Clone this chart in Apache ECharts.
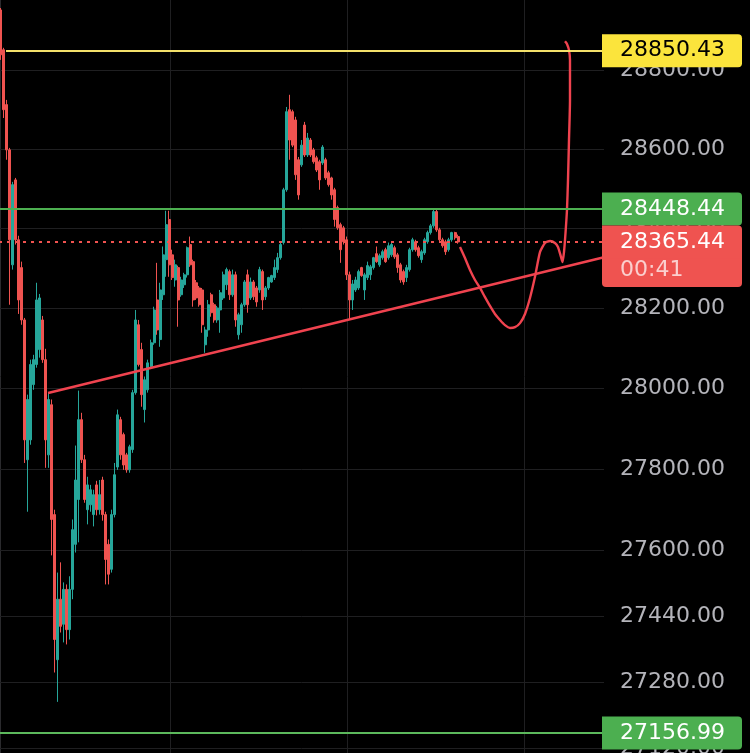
<!DOCTYPE html>
<html><head><meta charset="utf-8">
<script src="https://cdn.jsdelivr.net/npm/echarts@6/dist/echarts.min.js"></script>
<style>html,body{margin:0;padding:0;background:#000;}#chart{width:750px;height:753px;}</style>
</head><body><div id="chart"></div>
<script>
// ---- data ----
const opens = [28955,28853,28713,28598,28308,28522,28371,28301,28170,27823,27872,28009,28059,28096,28170,28071,27835,27959,27688,27334,
27481,27420,27505,27407,27505,27615,27725,27922,27823,27700,27712,27688,27761,27700,27773,27688,27615,27554,27688,27805,
27922,27885,27835,27798,27848,27989,28158,28096,27947,27996,28054,28113,28220,28121,28233,28321,28422,28333,28270,28301,
28233,28258,28283,28359,28316,28263,28250,28245,28108,28145,28233,28208,28170,28195,28225,28258,28291,28233,28283,28133,
28158,28208,28283,28225,28265,28250,28245,28291,28228,28250,28265,28276,28296,28326,28364,28497,28700,28695,28674,28573,
28560,28661,28585,28623,28598,28578,28568,28565,28573,28540,28527,28497,28452,28409,28401,28371,28283,28220,28245,28250,
28301,28245,28276,28283,28301,28336,28308,28326,28346,28326,28333,28351,28333,28308,28291,28276,28296,28346,28366,28351,
28321,28338,28366,28389,28406,28442,28396,28371,28366,28346,28371,28389,28379];
const closes = [28840,28700,28598,28371,28510,28371,28220,28170,27872,27972,28059,28071,28220,28225,28071,27872,27972,27676,27383,27481,
27415,27505,27407,27505,27651,27773,27922,27823,27725,27761,27749,27737,27700,27737,27688,27578,27542,27688,27786,27934,
27835,27810,27798,27855,27989,28170,28059,27984,28021,28063,28113,28195,28145,28245,28333,28409,28308,28276,28308,28220,
28270,28283,28351,28308,28220,28225,28208,28158,28145,28208,28188,28170,28200,28238,28283,28296,28233,28283,28170,28183,
28208,28265,28208,28265,28228,28215,28296,28220,28250,28276,28281,28301,28326,28359,28497,28695,28623,28610,28535,28484,
28610,28585,28628,28585,28568,28547,28522,28605,28527,28510,28484,28422,28401,28346,28366,28283,28220,28260,28270,28291,
28281,28283,28306,28303,28326,28316,28331,28341,28316,28356,28359,28328,28301,28270,28265,28301,28346,28371,28346,28331,
28341,28371,28389,28406,28442,28396,28371,28356,28341,28371,28389,28376,28365.44];
const highs = [28960,28858,28725,28603,28517,28527,28381,28316,28175,27984,28071,28083,28263,28235,28180,28098,27989,27972,27700,27546,
27571,27522,27517,27537,27676,27858,27994,27939,27835,27781,27761,27749,27771,27773,27781,27695,27627,27700,27815,27947,
27929,27890,27840,27860,27996,28195,28170,28113,28029,28071,28121,28203,28313,28263,28354,28444,28444,28346,28321,28306,
28278,28288,28354,28379,28321,28270,28255,28250,28153,28220,28238,28213,28205,28245,28291,28301,28296,28296,28291,28188,
28213,28270,28296,28276,28270,28255,28303,28296,28255,28278,28283,28321,28338,28364,28502,28707,28738,28700,28682,28580,
28623,28669,28641,28628,28603,28583,28573,28610,28578,28545,28530,28502,28457,28414,28406,28379,28291,28270,28278,28296,
28303,28288,28316,28308,28328,28354,28336,28346,28351,28364,28364,28356,28338,28313,28296,28308,28351,28376,28371,28356,
28346,28376,28394,28411,28449,28449,28401,28376,28371,28376,28391,28391,28384];
const lows = [28827,28679,28573,28208,28296,28359,28185,28158,27815,27695,27860,27996,28051,28076,28063,27803,27803,27588,27303,27232,
27400,27376,27371,27383,27481,27595,27620,27815,27717,27664,27695,27659,27686,27688,27673,27517,27517,27546,27681,27798,
27823,27798,27791,27791,27840,27984,28054,27954,27915,27989,28049,28108,28133,28103,28220,28278,28278,28270,28253,28153,
28228,28250,28276,28303,28203,28220,28203,28138,28088,28128,28178,28163,28163,28138,28220,28245,28220,28228,28153,28121,
28138,28203,28188,28220,28220,28203,28238,28195,28220,28245,28263,28270,28288,28321,28359,28492,28573,28605,28522,28472,
28555,28580,28580,28580,28563,28542,28497,28560,28522,28505,28472,28404,28396,28313,28359,28270,28170,28195,28240,28245,
28278,28220,28270,28270,28296,28313,28303,28321,28313,28321,28328,28323,28288,28263,28258,28265,28291,28341,28341,28326,
28313,28333,28361,28384,28401,28391,28366,28351,28333,28341,28366,28371,28361];

const slotCount = 201;                       // time slots on the x axis (incl. empty future)
const categories = Array.from({length: slotCount}, (_, i) => 'T' + i);
const priceTicks = [29000, 28800, 28600, 28400, 28200, 28000, 27800, 27600, 27440, 27280, 27120];
const timeGridSlots = [56.3, 115.1, 174.0];

const resistanceTop = 28850.43;
const resistanceTopStartSlot = 1.83;
const resistanceMid = 28448.44;
const lastPrice = 28365.44;
const countdown = '00:41';
const supportLevel = 27156.99;

const trendSlots = [15.8, 200.5];
const trendPrices = [27988, 28327];

const pathSlots = [152.66,154.32,155.98,157.64,159.30,160.96,162.62,164.28,165.95,167.61,169.27,170.93,172.59,174.25,175.91,177.57,
179.23,180.90,182.56,184.22,185.21,186.21,186.71,187.21,187.71,188.20,188.54,188.87,189.20,189.20,188.87,188.20,187.54];
const pathPrices = [28353,28325,28295,28270,28250,28227,28205,28185,28170,28157,28150,28152,28162,28185,28225,28278,
28340,28363,28368,28363,28353,28328,28315,28340,28388,28446,28522,28623,28725,28827,28852,28868,28875];

// ---- chart ----
const FONT = 'DejaVu Sans';
const UP = '#26a69a', DOWN = '#ef5350', PEN = '#f0434f';
const chart = echarts.init(document.getElementById('chart'), null, {renderer: 'canvas'});

const candleData = opens.map((o, i) => [o, closes[i], lows[i], highs[i]]);

function badge(bg, color, extra) {
  return Object.assign({
    show: true, position: 'end', distance: -2,
    backgroundColor: bg, color: color, fontSize: 22, fontFamily: FONT, lineHeight: 23,
    padding: [5, 13, 5, 18], width: 109, align: 'left', borderRadius: [0, 4, 4, 0]
  }, extra || {});
}

const gridMarks = priceTicks.map(v => ({
  yAxis: v,
  label: {show: true, formatter: v.toFixed(2)}
})).concat(timeGridSlots.map(s => ({xAxis: s, label: {show: false}})));

const option = {
  backgroundColor: '#000000',
  animation: false,
  grid: {left: -1, right: 146, top: -20, bottom: -20, containLabel: false, outerBoundsMode: 'none'},
  xAxis: [
    {type: 'category', data: categories, boundaryGap: true, show: false},
    {type: 'value', min: -0.5, max: slotCount - 0.5, show: false}
  ],
  yAxis: [{
    type: 'log', logBase: 10, position: 'right', min: 27060.8, max: 29032.0,
    axisLine: {show: true, lineStyle: {color: '#2a2a2d', width: 1}},
    axisTick: {show: false}, axisLabel: {show: false}, splitLine: {show: false}
  }],
  series: [
    {
      name: 'grid', type: 'line', xAxisIndex: 1, yAxisIndex: 0, data: [], z: 0,
      markLine: {
        silent: true, z: 1, symbol: ['none', 'none'], animation: false,
        lineStyle: {color: '#1f1f21', width: 1, type: 'solid'},
        label: {position: 'end', distance: 16, color: '#b4b4ba', fontSize: 22, fontFamily: FONT},
        emphasis: {disabled: true},
        data: gridMarks
      }
    },
    {
      name: 'price', type: 'candlestick', xAxisIndex: 0, yAxisIndex: 0, z: 2,
      barWidth: 2.5,
      itemStyle: {color: UP, color0: DOWN, borderColor: UP, borderColor0: DOWN, borderWidth: 1},
      data: candleData
    },
    {
      name: 'trend', type: 'line', xAxisIndex: 1, yAxisIndex: 0, z: 3,
      showSymbol: false, symbol: 'none',
      lineStyle: {color: PEN, width: 2.4},
      data: trendSlots.map((s, i) => [s, trendPrices[i]])
    },
    {
      name: 'path', type: 'line', xAxisIndex: 1, yAxisIndex: 0, z: 3,
      showSymbol: false, symbol: 'none', smooth: 0.2,
      lineStyle: {color: PEN, width: 2.4},
      data: pathSlots.map((s, i) => [s, pathPrices[i]])
    },
    {
      name: 'levels', type: 'line', xAxisIndex: 1, yAxisIndex: 0, data: [], z: 4,
      markLine: {
        silent: true, z: 6, symbol: ['none', 'none'], animation: false,
        emphasis: {disabled: true},
        data: [
          [
            {coord: [resistanceTopStartSlot, resistanceTop],
             lineStyle: {color: '#f3e06a', width: 2, type: 'solid'},
             label: badge('#fbe43c', '#000000', {formatter: resistanceTop.toFixed(2)})},
            {coord: [slotCount - 0.5, resistanceTop]}
          ],
          {yAxis: resistanceMid, lineStyle: {color: '#4caf50', width: 2, type: 'solid'},
           label: badge('#4caf50', '#ffffff', {formatter: resistanceMid.toFixed(2)})},
          {yAxis: lastPrice, lineStyle: {color: '#f05350', width: 2, type: [3, 5]},
           label: badge('#ef5350', 'rgba(255,255,255,0.72)', {formatter: countdown, verticalAlign: 'top',
             padding: [17, 13, 5, 18], borderRadius: [0, 0, 4, 4]})},
          {yAxis: lastPrice, lineStyle: {color: '#f05350', width: 2, type: [3, 5]},
           label: badge('#ef5350', '#ffffff', {formatter: lastPrice.toFixed(2), borderRadius: [0, 4, 0, 0]})},
          {yAxis: supportLevel, lineStyle: {color: '#5cb85c', width: 2, type: 'solid'},
           label: badge('#4caf50', '#ffffff', {formatter: supportLevel.toFixed(2)})}
        ]
      }
    }
  ]
};
chart.setOption(option);
</script>
</body></html>
